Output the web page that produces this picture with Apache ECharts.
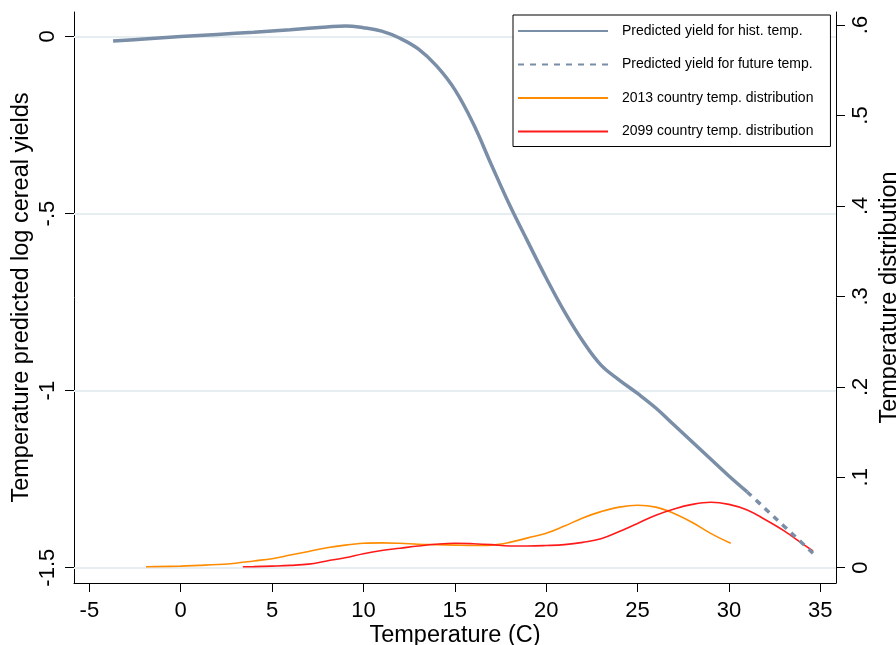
<!DOCTYPE html>
<html>
<head>
<meta charset="utf-8">
<script src="https://cdn.jsdelivr.net/npm/echarts@6/dist/echarts.min.js"></script>
<style>
  html, body { margin: 0; padding: 0; background: #fff; }
  #chart { width: 896px; height: 645px; }
</style>
</head>
<body>
<div id="chart"></div>
<script>
// Predicted log cereal yield by temperature (historical range, then extrapolated)
const histTemp  = [-3.7, -2, 0, 2, 4, 6, 8, 9, 10, 11, 12, 13, 14, 15, 16, 17, 18, 19, 20, 21, 22, 23, 24, 25, 26, 27, 28, 29, 30, 31];
const histYield = [-0.013, -0.007, 0.0, 0.006, 0.012, 0.019, 0.027, 0.030, 0.025, 0.015, -0.005, -0.035, -0.083, -0.150, -0.245, -0.362, -0.476, -0.580, -0.682, -0.777, -0.860, -0.928, -0.970, -1.008, -1.049, -1.097, -1.145, -1.193, -1.241, -1.286];
const futureTemp  = [31, 32, 33, 34, 34.6];
const futureYield = [-1.286, -1.334, -1.382, -1.430, -1.459];

// Country temperature distributions (density)
const temp2013 = [-1.9, 0, 1, 2, 3, 4, 5, 6, 7, 8, 9, 10, 11, 12, 13, 14, 15, 16, 17, 18, 19, 20, 21, 22, 23, 24, 25, 26, 27, 28, 29, 30.1];
const dens2013 = [0.001, 0.0018, 0.0026, 0.0035, 0.005, 0.0075, 0.010, 0.014, 0.018, 0.022, 0.025, 0.027, 0.0275, 0.027, 0.026, 0.0255, 0.025, 0.0245, 0.025, 0.028, 0.033, 0.038, 0.046, 0.055, 0.062, 0.067, 0.069, 0.067, 0.060, 0.050, 0.038, 0.027];
const temp2099 = [3.4, 4, 5, 6, 7, 8, 9, 10, 11, 12, 13, 14, 15, 16, 17, 18, 19, 20, 21, 22, 23, 24, 25, 26, 27, 28, 29, 30, 31, 32, 33, 34, 34.6];
const dens2099 = [0.001, 0.0012, 0.0018, 0.0026, 0.004, 0.0075, 0.011, 0.0155, 0.019, 0.0215, 0.024, 0.026, 0.027, 0.0265, 0.0255, 0.024, 0.024, 0.0245, 0.0255, 0.028, 0.032, 0.040, 0.049, 0.058, 0.065, 0.070, 0.0723, 0.070, 0.0638, 0.053, 0.041, 0.027, 0.0185];

// Axis ticks
const tempTicks  = [-5, 0, 5, 10, 15, 20, 25, 30, 35];
const yieldTicks = [0, -0.5, -1, -1.5];
const distTicks  = [0, 0.1, 0.2, 0.3, 0.4, 0.5, 0.6];

const names = [
  'Predicted yield for hist. temp.',
  'Predicted yield for future temp.',
  '2013 country temp. distribution',
  '2099 country temp. distribution'
];

const FONT = "'Liberation Sans', Arial, Helvetica, sans-serif";
const pair = (xs, ys) => xs.map((x, i) => [x, ys[i]]);
// Stata-style numbers: drop leading zero ("-.5", ".1")
const stataNum = v => {
  const s = String(Math.round(v * 1000) / 1000);
  return s.replace(/^0\./, '.').replace(/^-0\./, '-.');
};

const axisText = { fontFamily: FONT, fontSize: 22, color: '#000' };
const titleText = { fontFamily: FONT, fontSize: 23.5, color: '#000' };

const chart = echarts.init(document.getElementById('chart'), null, { renderer: 'canvas' });
chart.setOption({
  animation: false,
  backgroundColor: '#fff',
  textStyle: { fontFamily: FONT },
  grid: { left: 74, right: 60, top: 12, bottom: 62, containLabel: false, outerBoundsMode: 'none' },
  legend: {
    data: names,
    orient: 'vertical',
    left: 513,
    top: 15,
    z: 10,
    padding: [9, 17, 8, 4],
    itemWidth: 90,
    itemHeight: 14,
    itemGap: 19.5,
    borderColor: '#000',
    borderWidth: 1,
    borderRadius: 0,
    backgroundColor: '#fff',
    itemStyle: { opacity: 0 },
    textStyle: { fontFamily: FONT, fontSize: 14, color: '#000', padding: [0, 0, 0, 9] }
  },
  xAxis: {
    type: 'value',
    min: -5.84,
    max: 35.86,
    name: 'Temperature (C)',
    nameLocation: 'middle',
    nameGap: 41,
    nameMoveOverlap: false,
    nameTextStyle: titleText,
    axisLine: { show: true, onZero: false, lineStyle: { color: '#000', width: 1 } },
    axisTick: { show: true, length: 9, customValues: tempTicks, lineStyle: { color: '#000' } },
    axisLabel: Object.assign({ customValues: tempTicks, margin: 17, formatter: v => stataNum(v) }, axisText),
    splitLine: { show: false }
  },
  yAxis: [
    {
      type: 'value',
      position: 'left',
      min: -1.5432,
      max: 0.0692,
      name: 'Temperature predicted log cereal yields',
      nameLocation: 'middle',
      nameRotate: 90,
      nameGap: 40,
      nameMoveOverlap: false,
      nameTextStyle: titleText,
      axisLine: { show: true, onZero: false, lineStyle: { color: '#000', width: 1 } },
      axisTick: { show: true, length: 9, customValues: yieldTicks, lineStyle: { color: '#000' } },
      axisLabel: Object.assign({ customValues: yieldTicks, rotate: 90, margin: 15, formatter: v => stataNum(v) }, axisText),
      splitLine: { show: false }
    },
    {
      type: 'value',
      position: 'right',
      min: -0.0169,
      max: 0.6144,
      name: 'Temperature distribution',
      nameLocation: 'middle',
      nameRotate: 90,
      nameGap: 42,
      nameMoveOverlap: false,
      nameTextStyle: titleText,
      axisLine: { show: true, onZero: false, lineStyle: { color: '#000', width: 1 } },
      axisTick: { show: true, length: 9, customValues: distTicks, lineStyle: { color: '#000' } },
      axisLabel: Object.assign({ customValues: distTicks, rotate: 90, margin: 14, formatter: v => stataNum(v) }, axisText),
      splitLine: { show: false }
    }
  ],
  series: [
    {
      // horizontal grid lines at the yield ticks
      type: 'line',
      yAxisIndex: 0,
      data: [],
      silent: true,
      z: 1,
      markLine: {
        silent: true,
        z: 1,
        symbol: 'none',
        label: { show: false },
        lineStyle: { color: '#e6eef1', width: 2, type: 'solid' },
        data: yieldTicks.map(v => ({ yAxis: v }))
      }
    },
    {
      name: names[2],
      type: 'line',
      yAxisIndex: 1,
      data: pair(temp2013, dens2013),
      smooth: 0.4,
      symbol: 'none',
      lineStyle: { color: '#ff8c00', width: 1.6 },
      itemStyle: { color: '#ff8c00' },
      z: 2
    },
    {
      name: names[3],
      type: 'line',
      yAxisIndex: 1,
      data: pair(temp2099, dens2099),
      smooth: 0.4,
      symbol: 'none',
      lineStyle: { color: '#ff1a1a', width: 1.6 },
      itemStyle: { color: '#ff1a1a' },
      z: 2
    },
    {
      name: names[0],
      type: 'line',
      yAxisIndex: 0,
      data: pair(histTemp, histYield),
      smooth: 0.4,
      symbol: 'none',
      lineStyle: { color: '#7a8ea7', width: 3.5 },
      itemStyle: { color: '#7a8ea7' },
      z: 3
    },
    {
      name: names[1],
      type: 'line',
      yAxisIndex: 0,
      data: pair(futureTemp, futureYield),
      smooth: 0.4,
      symbol: 'none',
      lineStyle: { color: '#7a8ea7', width: 3.5, type: [6, 6] },
      itemStyle: { color: '#7a8ea7' },
      z: 3
    }
  ]
});
</script>
</body>
</html>
